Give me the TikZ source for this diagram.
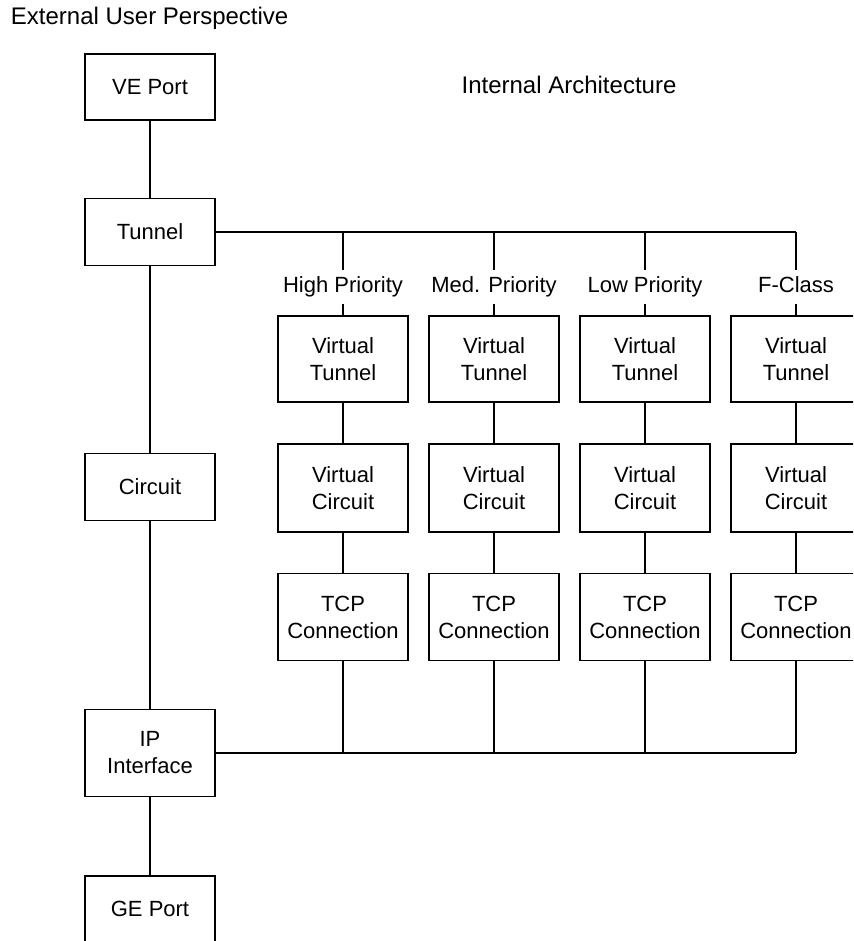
\documentclass[tikz,border=0pt]{standalone}
\usepackage{fontspec}
\setmainfont{Liberation Sans}
\usetikzlibrary{positioning,calc}

\begin{document}
\begin{tikzpicture}[x=1pt,y=-1pt,line width=1.8pt,
  blk/.style={draw,minimum width=130pt,minimum height=66pt,inner sep=0pt,align=center,font=\fontsize{22}{27}\selectfont},
  lbl/.style={inner xsep=0pt,inner ysep=6pt,text height=16pt,text depth=5pt,font=\fontsize{22}{27}\selectfont},
  ttl/.style={inner sep=0pt,font=\fontsize{24}{28}\selectfont}]
\useasboundingbox (0,0) rectangle (853,941);
\clip (0,0) rectangle (853,941);
% external view (left column)
\node[ttl,anchor=west] (extlab) at (10,18) {External User Perspective};
\node[blk] (ve) at (150,87) {VE Port};
\node[blk,minimum height=67pt] (tun) at (150,232) {Tunnel};
\node[blk,minimum height=67pt] (cir) at (150,487) {Circuit};
\node[blk,minimum height=87pt] (ipif) at (150,753) {IP\\Interface};
\node[blk] (ge) at (150,909) {GE Port};
\draw (ve) -- (tun) -- (cir) -- (ipif) -- (ge);
% internal view (four columns)
\node[ttl] (intlab) at (569,85) {Internal Architecture};
\foreach \i/\xx/\cls in {1/343/High Priority,2/494/Med. Priority,3/645/Low Priority,4/796/F-Class}{
  \node[lbl] (cls\i) at (\xx,287) {\cls};
  \node[blk,minimum height=86pt] (vt\i) at (\xx,359) {Virtual\\Tunnel};
  \node[blk,minimum height=88pt] (vc\i) at (\xx,488) {Virtual\\Circuit};
  \node[blk,minimum height=87pt] (tcp\i) at (\xx,617) {TCP\\Connection};
  \draw (cls\i.north |- tun.east) -- (cls\i.north);
  \draw (cls\i.south) -- (vt\i) -- (vc\i) -- (tcp\i);
  \draw (tcp\i) -- (tcp\i.south |- ipif.east);
}
\draw (tun.east) -- (tun.east -| cls4.north);
\draw (ipif.east) -- (ipif.east -| tcp4.south);
\end{tikzpicture}
\end{document}
